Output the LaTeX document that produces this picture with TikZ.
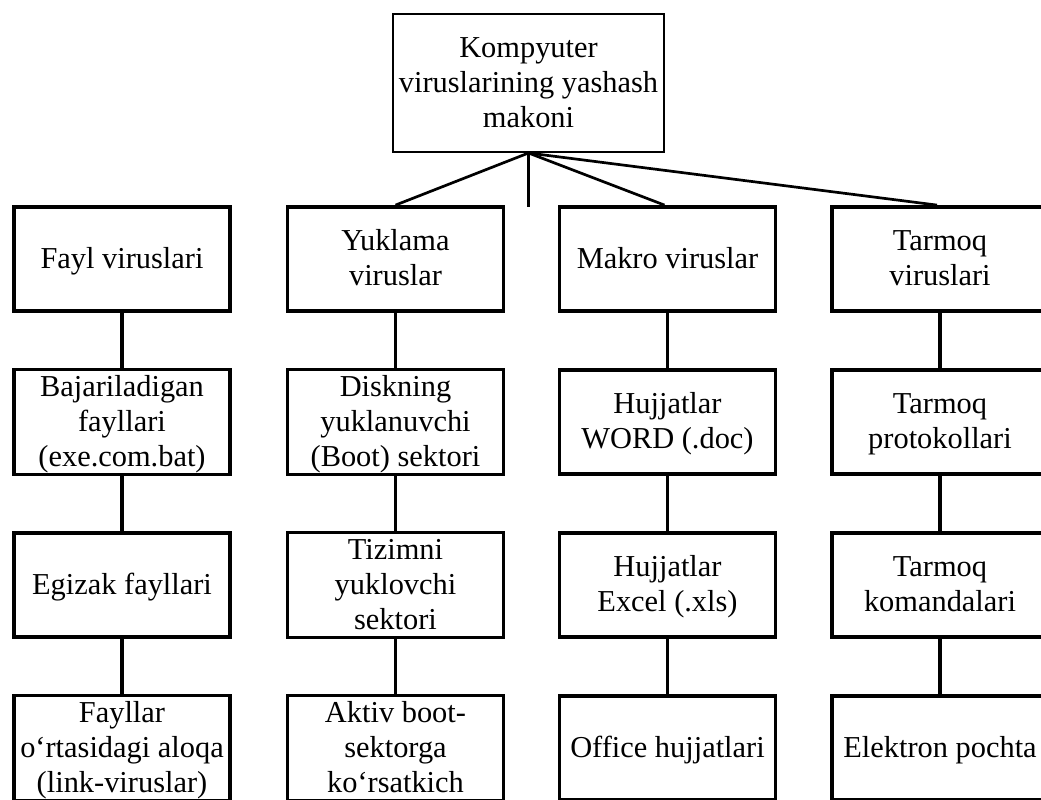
\documentclass[tikz,border=0pt]{standalone}
\usepackage{fontspec}
\setmainfont{Liberation Serif}
% fixed line box: 35pt per line, baseline 26.7pt below its top
\newcommand\lnbox{\rule[-8.3pt]{0pt}{35pt}}
\begin{document}
\begin{tikzpicture}[x=1pt,y=-1pt,
  txt/.style={align=center, inner sep=0pt, font=\fontsize{30.4}{35}\selectfont},
  box/.style={txt, draw, line width=3.8pt, minimum width=216pt, minimum height=104pt},
  rootbox/.style={txt, draw, line width=2pt, minimum width=271pt, minimum height=138pt},
  link/.style={line width=3.8pt},
  branch/.style={line width=2.7pt}]
\useasboundingbox (0,0) rectangle (1041,800);

% root
\node[rootbox] (root) at (528.5,83) {\lnbox Kompyuter\\\lnbox viruslarining yashash\\\lnbox makoni};

% column 1: file viruses
\node[box] (f1) at (122,259) {\lnbox Fayl viruslari};
\node[box] (f2) at (122,422) {\lnbox Bajariladigan\\\lnbox fayllari\\\lnbox (exe.com.bat)};
\node[box] (f3) at (122,585) {\lnbox Egizak fayllari};
\node[box] (f4) at (122,748) {\lnbox Fayllar\\\lnbox o‘rtasidagi aloqa\\\lnbox (link-viruslar)};

% column 2: boot viruses
\node[box] (b1) at (395.5,259) {\lnbox Yuklama\\\lnbox viruslar};
\node[box] (b2) at (395.5,422) {\lnbox Diskning\\\lnbox yuklanuvchi\\\lnbox (Boot) sektori};
\node[box] (b3) at (395.5,585) {\lnbox Tizimni\\\lnbox yuklovchi\\\lnbox sektori};
\node[box] (b4) at (395.5,748) {\lnbox Aktiv boot-\\\lnbox sektorga\\\lnbox ko‘rsatkich};

% column 3: macro viruses
\node[box] (m1) at (667.5,259) {\lnbox Makro viruslar};
\node[box] (m2) at (667.5,422) {\lnbox Hujjatlar\\\lnbox WORD (.doc)};
\node[box] (m3) at (667.5,585) {\lnbox Hujjatlar\\\lnbox Excel (.xls)};
\node[box] (m4) at (667.5,748) {\lnbox Office hujjatlari};

% column 4: network viruses
\node[box] (n1) at (940,259) {\lnbox Tarmoq\\\lnbox viruslari};
\node[box] (n2) at (940,422) {\lnbox Tarmoq\\\lnbox protokollari};
\node[box] (n3) at (940,585) {\lnbox Tarmoq\\\lnbox komandalari};
\node[box] (n4) at (940,748) {\lnbox Elektron pochta};

% branches from the root
\coordinate (stub) at (528.5,207);
\draw[branch] (root.south) -- (b1.north);
\draw[branch] (root.south) -- (stub);
\draw[branch] (root.south) -- ([xshift=-3pt]m1.north);
\draw[branch] (root.south) -- ([xshift=-3pt]n1.north);

% vertical chains
\foreach \c in {f,b,m,n}{
  \draw[link] (\c1) -- (\c2);
  \draw[link] (\c2) -- (\c3);
  \draw[link] (\c3) -- (\c4);
}
\end{tikzpicture}
\end{document}
